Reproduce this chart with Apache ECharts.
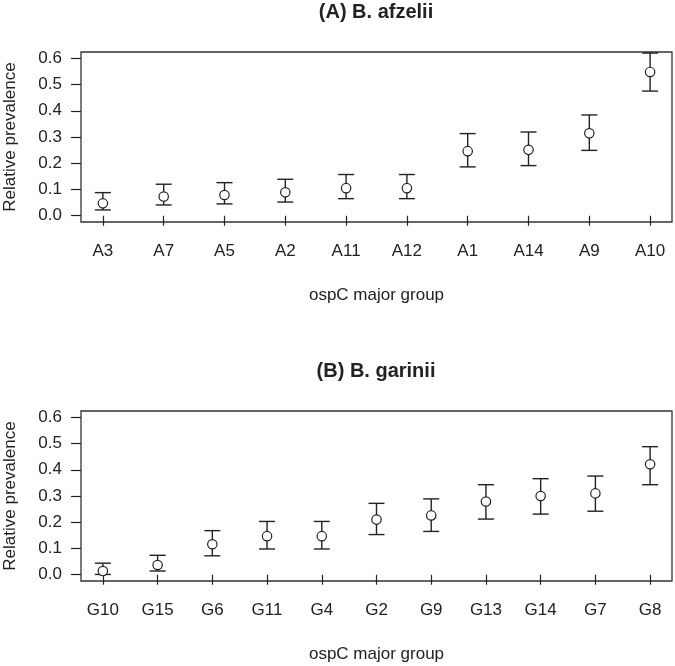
<!DOCTYPE html>
<html><head><meta charset="utf-8">
<script src="https://cdn.jsdelivr.net/npm/echarts@6/dist/echarts.min.js"></script>
<style>html,body{margin:0;padding:0;background:#fff}#c{width:675px;height:666px}</style>
</head><body><div id="c"></div>
<script>
const groupsA = ['A3','A7','A5','A2','A11','A12','A1','A14','A9','A10'];
const meanA   = [0.047,0.073,0.079,0.089,0.105,0.105,0.246,0.251,0.314,0.548];
const lowerA  = [0.022,0.041,0.045,0.052,0.065,0.065,0.186,0.191,0.249,0.475];
const upperA  = [0.088,0.120,0.126,0.139,0.157,0.157,0.313,0.319,0.384,0.620];

const groupsB = ['G10','G15','G6','G11','G4','G2','G9','G13','G14','G7','G8'];
const meanB   = [0.014,0.037,0.116,0.147,0.147,0.210,0.226,0.279,0.300,0.310,0.421];
const lowerB  = [0.001,0.014,0.072,0.098,0.098,0.153,0.165,0.212,0.231,0.242,0.343];
const upperB  = [0.044,0.074,0.168,0.203,0.203,0.272,0.289,0.343,0.366,0.376,0.488];

const yTicks = [0,0.1,0.2,0.3,0.4,0.5,0.6];
const titles = ['(A) B. afzelii','(B) B. garinii'];
const xTitle = 'ospC major group';
const yTitle = 'Relative prevalence';

const FONT = '"Liberation Sans", Arial, Helvetica, sans-serif';
const INK = '#222';

function errRender(params, api){
  const x = api.value(0), m = api.value(1), lo = api.value(2), hi = api.value(3);
  const pm = api.coord([x,m]), pl = api.coord([x,lo]), ph = api.coord([x,hi]);
  const w = 8;
  const st = {stroke: INK, lineWidth: 1.4, fill: null};
  return {type:'group', children:[
    {type:'line', shape:{x1:pl[0],y1:pl[1],x2:ph[0],y2:ph[1]}, style:st},
    {type:'line', shape:{x1:pl[0]-w,y1:pl[1],x2:pl[0]+w,y2:pl[1]}, style:st},
    {type:'line', shape:{x1:ph[0]-w,y1:ph[1],x2:ph[0]+w,y2:ph[1]}, style:st},
    {type:'circle', shape:{cx:pm[0],cy:pm[1],r:4.7}, style:{stroke:INK,lineWidth:1.2,fill:'#fff'}}
  ]};
}

function makeX(idx, groups){
  const n = groups.length;
  const pad = (n-1)*0.04;
  const ticks = groups.map((g,i)=>i+1);
  return {
    type:'value', gridIndex:idx, min:1-pad, max:n+pad,
    axisLine:{show:false}, splitLine:{show:false},
    axisTick:{show:true, length:10, inside:false, customValues:ticks, lineStyle:{color:INK,width:1.2}},
    axisLabel:{customValues:ticks, formatter:v=>groups[Math.round(v)-1], fontSize:17, color:INK, fontFamily:FONT, margin:21},
    name:xTitle, nameLocation:'middle', nameGap:65,
    nameTextStyle:{fontSize:17, color:INK, fontFamily:FONT}
  };
}
function makeY(idx){
  return {
    type:'value', gridIndex:idx, min:-0.024, max:0.624,
    axisLine:{show:false}, splitLine:{show:false},
    axisTick:{show:true, length:10, inside:false, customValues:yTicks, lineStyle:{color:INK,width:1.2}},
    axisLabel:{customValues:yTicks, formatter:v=>v.toFixed(1), fontSize:17, color:INK, fontFamily:FONT, margin:19},
    name:yTitle, nameLocation:'middle', nameGap:62, nameRotate:90,
    nameTextStyle:{fontSize:17, color:INK, fontFamily:FONT}
  };
}
function makeData(groups, mean, lower, upper){
  return groups.map((g,i)=>[i+1, mean[i], lower[i], upper[i]]);
}

const chart = echarts.init(document.getElementById('c'), null, {renderer:'canvas'});
chart.setOption({
  animation:false,
  backgroundColor:'#fff',
  title:[
    {text:titles[0], left:376, top:2, textAlign:'center', padding:0,
     textStyle:{fontSize:20, fontWeight:'bold', color:INK, fontFamily:FONT}},
    {text:titles[1], left:376, top:361, textAlign:'center', padding:0,
     textStyle:{fontSize:20, fontWeight:'bold', color:INK, fontFamily:FONT}}
  ],
  grid:[
    {left:81, top:52, width:591, height:170, show:true, borderColor:'#333', borderWidth:1.3,
     backgroundColor:'transparent', containLabel:false, outerBoundsMode:'none'},
    {left:81, top:411, width:591, height:170, show:true, borderColor:'#333', borderWidth:1.3,
     backgroundColor:'transparent', containLabel:false, outerBoundsMode:'none'}
  ],
  xAxis:[makeX(0, groupsA), makeX(1, groupsB)],
  yAxis:[makeY(0), makeY(1)],
  series:[
    {type:'custom', xAxisIndex:0, yAxisIndex:0, renderItem:errRender, encode:{x:0,y:1},
     data:makeData(groupsA, meanA, lowerA, upperA), clip:false},
    {type:'custom', xAxisIndex:1, yAxisIndex:1, renderItem:errRender, encode:{x:0,y:1},
     data:makeData(groupsB, meanB, lowerB, upperB), clip:false}
  ]
});
</script></body></html>
